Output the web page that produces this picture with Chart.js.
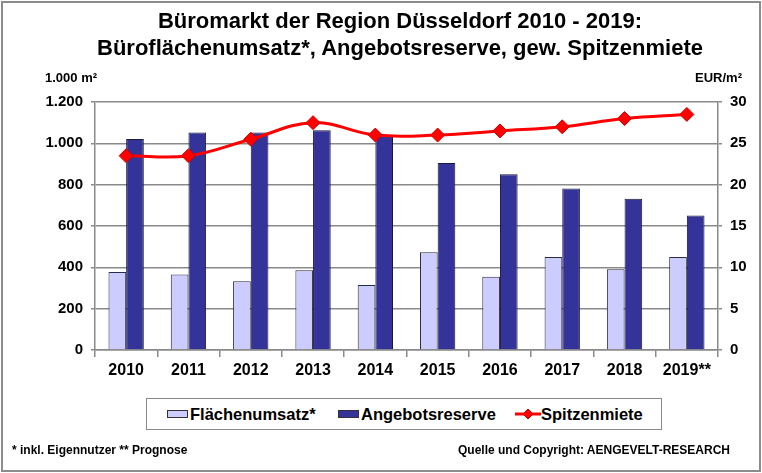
<!DOCTYPE html>
<html>
<head>
<meta charset="utf-8">
<script src="https://cdn.jsdelivr.net/npm/chart.js@4.4.1/dist/chart.umd.min.js"></script>
<style>
  html, body { margin: 0; padding: 0; background: #fff; }
  body { width: 762px; height: 473px; position: relative; overflow: hidden; font-family: "Liberation Sans", Arial, sans-serif; }
  #frame { position: absolute; left: 1px; top: 1px; width: 756px; height: 467px; border: 2px solid #8c8c8c; }
  #chartBox { position: absolute; left: 0; top: 0; width: 762px; height: 473px; }
  .txt { position: absolute; font-weight: bold; color: #000; white-space: nowrap; }
  #title { left: 0; width: 800px; top: 7px; text-align: center; font-size: 22px; line-height: 27px; }
  #unitL { left: 45px; top: 70px; font-size: 13px; }
  #unitR { right: 20px; top: 70px; font-size: 13px; }
  #legend { position: absolute; left: 146px; top: 398px; width: 514px; height: 30px; border: 1px solid #8a8a8a; background: #fff; }
  .item { position: absolute; top: 5px; font-size: 16.5px; font-weight: bold; line-height: 20px; }
  .sw { position: absolute; top: 11px; width: 19px; height: 6px; border: 1px solid #333; }
  #foot1 { left: 12px; top: 443px; font-size: 12px; }
  #foot2 { right: 32px; top: 443px; font-size: 12px; }
</style>
</head>
<body>
<div id="frame"></div>
<div id="chartBox"><canvas id="chartCanvas" width="762" height="473"></canvas></div>
<div class="txt" id="title">Büromarkt der Region Düsseldorf 2010 - 2019:<br>Büroflächenumsatz*, Angebotsreserve, gew. Spitzenmiete</div>
<div class="txt" id="unitL">1.000 m²</div>
<div class="txt" id="unitR">EUR/m²</div>
<div id="legend">
  <div class="sw" style="left:20px;background:#ccccff;"></div>
  <div class="item" style="left:43px;">Flächenumsatz*</div>
  <div class="sw" style="left:191px;background:#333399;"></div>
  <div class="item" style="left:214px;">Angebotsreserve</div>
  <svg style="position:absolute;left:368px;top:7px;" width="26" height="16">
    <line x1="0" y1="8" x2="26" y2="8" stroke="#ff0000" stroke-width="3"/>
    <polygon points="13,3 18,8 13,13 8,8" fill="#ff0000" stroke="#cc0000" stroke-width="1"/>
  </svg>
  <div class="item" style="left:394px;">Spitzenmiete</div>
</div>
<div class="txt" id="foot1">* inkl. Eigennutzer ** Prognose</div>
<div class="txt" id="foot2">Quelle und Copyright: AENGEVELT-RESEARCH</div>

<script>
const years = ["2010", "2011", "2012", "2013", "2014", "2015", "2016", "2017", "2018", "2019**"];
const flaechenumsatz = [378, 365, 333, 386, 315, 473, 355, 450, 391, 450];
const angebotsreserve = [1021, 1053, 1053, 1063, 1040, 905, 851, 782, 732, 651];
const spitzenmiete = [23.5, 23.5, 25.5, 27.5, 26.0, 26.0, 26.5, 27.0, 28.0, 28.5];
const leftTicks = [0, 200, 400, 600, 800, 1000, 1200];
const rightTicks = [0, 5, 10, 15, 20, 25, 30];

const gridColor = "#8a8a8a";
const tickFont = { family: "'Liberation Sans', Arial, sans-serif", size: 15, weight: "bold" };

function fmtThousands(v) {
  return v >= 1000 ? Math.floor(v / 1000) + "." + String(v % 1000).padStart(3, "0") : String(v);
}

const ctx = document.getElementById("chartCanvas").getContext("2d");
const chart = new Chart(ctx, {
  type: "bar",
  data: {
    labels: years,
    datasets: [
      {
        type: "line",
        label: "Spitzenmiete",
        data: spitzenmiete,
        yAxisID: "y1",
        borderColor: "#ff0000",
        borderWidth: 3,
        tension: 0.4,
        pointStyle: "rectRot",
        pointRadius: 7,
        pointBackgroundColor: "#ff0000",
        pointBorderColor: "#cc0000",
        pointBorderWidth: 1,
        order: 0
      },
      {
        label: "Flächenumsatz*",
        data: flaechenumsatz,
        yAxisID: "y",
        backgroundColor: "#ccccff",
        borderColor: "#2a2a40",
        borderWidth: 1,
        categoryPercentage: 0.567,
        barPercentage: 1.0,
        order: 1
      },
      {
        label: "Angebotsreserve",
        data: angebotsreserve,
        yAxisID: "y",
        backgroundColor: "#333399",
        borderColor: "#1a1a33",
        borderWidth: 1,
        categoryPercentage: 0.567,
        barPercentage: 1.0,
        order: 1
      }
    ]
  },
  options: {
    responsive: false,
    animation: false,
    devicePixelRatio: 1,
    layout: { padding: { left: 0, right: 0, top: 102, bottom: 92 } },
    plugins: { legend: { display: false }, tooltip: { enabled: false } },
    scales: {
      x: {
        offset: true,
        grid: { offset: true, drawOnChartArea: false, color: gridColor, tickLength: 7, lineWidth: 1.5 },
        border: { color: gridColor, width: 1.5 },
        ticks: { color: "#000", font: { family: tickFont.family, size: 16, weight: "bold" }, padding: 4, maxRotation: 0 },
        afterFit: s => { s.height = 31; }
      },
      y: {
        position: "left",
        min: 0, max: 1200,
        afterBuildTicks: s => { s.ticks = leftTicks.map(v => ({ value: v })); },
        grid: { color: gridColor, lineWidth: 1.5, tickLength: 4 },
        border: { color: gridColor, width: 1.5 },
        ticks: { color: "#000", font: tickFont, padding: 8, callback: v => fmtThousands(v) },
        afterFit: s => { s.width = 95; }
      },
      y1: {
        position: "right",
        min: 0, max: 30,
        afterBuildTicks: s => { s.ticks = rightTicks.map(v => ({ value: v })); },
        grid: { drawOnChartArea: false, color: gridColor, lineWidth: 1.5, tickLength: 4 },
        border: { color: gridColor, width: 1.5 },
        ticks: { color: "#000", font: tickFont, padding: 8 },
        afterFit: s => { s.width = 44; }
      }
    }
  }
});
</script>
</body>
</html>
